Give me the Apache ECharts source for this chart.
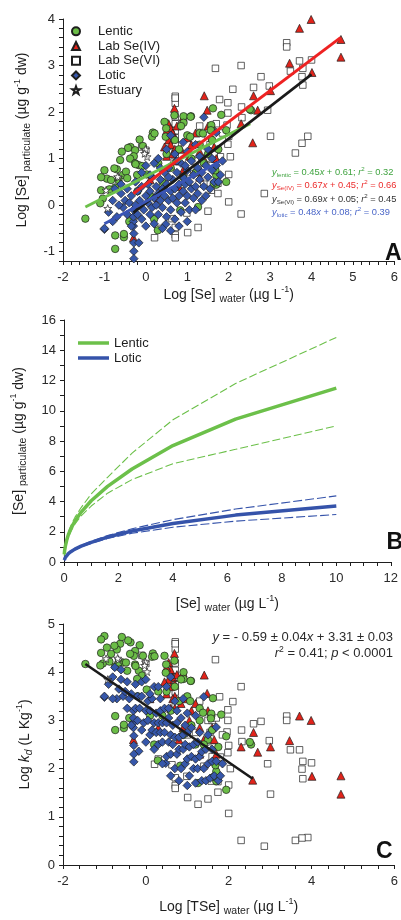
<!DOCTYPE html>
<html><head><meta charset="utf-8">
<script src="https://cdn.jsdelivr.net/npm/echarts@6.0.0/dist/echarts.min.js"></script>
<style>html,body{margin:0;padding:0;background:#fff}#c{width:401px;height:920px}</style>
</head><body><div id="c"></div>
<script>
// ---------- Panel A : Log [Se] particulate vs Log [Se] water ----------
const aLentic = [[2.54,2.04],[1.94,1.61],[1.62,2.08],[1.09,1.91],[0.91,1.91],[0.69,1.93],[0.91,1.77],[0.85,1.70],[0.45,1.79],[0.17,1.56],[0.15,1.47],[-0.15,1.41],[-0.37,1.25],[-0.26,1.18],[-0.07,1.27],[0.49,1.65],[0.48,1.47],[1.0,1.50],[1.07,1.47],[1.58,1.67],[0.21,1.54],[-0.43,1.23],[-0.29,1.05],[-0.38,1.0],[-0.17,0.86],[-0.26,0.90],[-0.62,0.97],[-0.70,0.77],[-1.0,0.75],[-0.94,0.57],[-0.84,0.54],[-1.08,0.60],[-0.74,0.38],[-1.04,0.14],[-1.10,0.04],[-1.08,0.32],[-1.46,-0.29],[-0.55,0.65],[-0.48,0.72],[-0.45,0.58],[-0.09,0.84],[-0.76,0.79],[-0.66,0.54],[-0.88,0.34],[-0.74,-0.65],[-0.53,-0.69],[-0.53,-0.62],[-0.74,-0.94],[0.29,-0.54],[-0.21,0.65],[-0.25,0.88],[0.02,0.66],[-0.58,1.15],[1.94,0.50],[1.70,0.64],[1.70,0.44],[0.83,-0.11],[1.26,-0.04],[0.3,0.9],[0.5,1.1],[0.6,0.8],[0.8,1.2],[1.1,1.0],[1.3,1.3],[1.5,1.1],[0.4,0.5],[0.9,0.6],[1.2,0.7],[0.1,0.2],[-0.2,0.3],[1.6,1.4],[1.4,0.9],[0.7,1.4],[1.3,1.55],[1.75,1.2],[-0.4,-0.35],[0.2,-0.3],[1.08,1.9],[1.82,1.94],[2.51,2.06],[1.58,1.72],[1.57,1.61],[1.38,1.54],[1.68,0.75],[1.64,0.47]];
const aSeIV = [[3.99,3.99],[3.71,3.80],[4.71,3.56],[4.71,3.18],[4.01,2.85],[3.47,3.05],[2.60,2.35],[1.41,2.35],[1.48,2.04],[0.69,2.08],[3.01,2.46],[2.70,2.04],[2.58,1.34],[0.9,1.89],[0.55,1.75],[0.6,1.65],[0.65,1.55],[0.7,1.45],[0.5,1.6],[0.55,1.4],[0.6,1.3],[0.7,1.2],[0.65,1.1],[0.5,1.05],[0.7,0.95],[0.6,0.85],[0.75,1.7],[0.45,1.25],[1.0,1.45],[1.1,1.3],[1.2,1.55],[1.3,1.15],[1.5,1.7],[1.6,1.45],[1.65,1.25],[1.05,1.05],[0.85,1.2],[0.9,0.75],[1.3,0.6],[1.4,1.0],[0.3,0.15],[0.1,0.55],[1.7,1.0],[0.8,0.4],[2.3,1.75],[-0.3,-0.7]];
const aSeVI = [[3.40,3.49],[3.40,3.40],[3.71,3.10],[4.0,3.12],[3.49,2.88],[3.79,2.94],[3.77,2.76],[3.79,2.58],[1.68,2.94],[2.30,3.0],[2.78,2.76],[2.98,2.56],[2.10,2.49],[2.60,2.53],[1.78,2.27],[1.98,2.2],[2.31,2.11],[2.94,2.04],[2.32,1.88],[3.01,1.48],[3.91,1.48],[3.77,1.33],[3.61,1.12],[0.71,2.34],[0.71,2.19],[0.71,2.30],[1.98,1.98],[1.96,1.72],[2.0,1.48],[1.98,1.31],[1.80,1.04],[2.04,1.04],[2.0,0.07],[2.0,0.66],[1.74,0.47],[2.30,-0.19],[2.86,0.25],[1.50,-0.13],[1.26,-0.48],[1.01,-0.59],[0.71,-0.48],[0.71,-0.64],[0.71,-0.70],[0.21,-0.70],[0.99,-0.17],[0.63,-0.29],[1.58,0.32],[1.74,0.25],[0.71,1.15],[0.71,1.3],[0.71,1.45],[0.71,1.6],[0.71,1.75],[0.71,1.9],[0.71,1.0],[1.5,1.5],[1.6,1.6],[1.7,1.75],[1.55,1.3],[1.45,1.0],[1.2,0.95],[1.65,1.1],[1.85,1.55],[1.3,1.7],[1.6,0.85],[1.0,0.7],[0.3,-0.5],[-0.3,-0.3],[1.4,0.45],[-0.1,1.25],[0.0,1.18]];
const aLotic = [[-1.0,-0.52],[-1.0,-0.50],[-0.29,-0.61],[-0.29,-0.81],[-0.17,-0.81],[-0.29,-0.99],[-0.29,-1.15],[0.48,-0.41],[-0.3,-0.45],[-0.3,-0.35],[-0.3,-0.25],[-0.55,-0.05],[-0.5,0.1],[-0.45,-0.2],[-0.4,0.05],[-0.35,0.2],[-0.3,-0.1],[-0.25,0.0],[-0.2,-0.2],[-0.2,0.3],[-0.15,0.1],[-0.1,-0.3],[-0.1,0.4],[-0.6,0.25],[-0.45,0.35],[-0.35,-0.45],[-0.25,0.5],[-0.05,-0.1],[0,0.2],[0,-0.45],[0.05,0.45],[0.05,0.05],[0.1,-0.2],[0.1,0.3],[0.15,0.6],[0.15,-0.05],[0.2,0.15],[0.2,-0.4],[0.25,0.4],[0.25,0.0],[0.3,0.25],[0.3,-0.2],[0.35,0.55],[0.35,0.1],[0.4,-0.05],[0.4,0.35],[0.45,0.7],[0.45,0.2],[0.5,-0.25],[0.5,0.45],[0.55,0.1],[0.55,0.8],[0.6,0.3],[0.6,-0.1],[0.65,0.55],[0.65,0.15],[0.7,0.35],[0.7,-0.3],[0.75,0.7],[0.75,0.05],[0.8,0.45],[0.8,0.2],[0.85,-0.15],[0.85,0.9],[0.9,0.3],[0.9,0.6],[0.95,0.05],[0.95,0.45],[1.0,0.75],[1.0,0.2],[1.05,-0.1],[1.05,0.5],[1.1,0.35],[1.1,0.95],[1.15,0.15],[1.15,0.65],[1.2,0.4],[1.2,-0.1],[1.25,0.8],[1.25,0.25],[1.3,0.55],[1.3,1.05],[1.35,0.1],[1.35,0.7],[1.4,0.4],[1.4,1.89],[1.45,0.85],[1.45,0.2],[1.5,0.6],[1.5,1.2],[1.55,0.35],[1.6,0.75],[1.6,1.0],[1.65,0.5],[1.7,1.56],[1.7,0.85],[1.75,0.5],[1.8,0.65],[1.85,0.95],[0.6,1.5],[0.9,1.35],[0.5,1.2],[0.2,0.9],[-0.1,0.7],[0.0,0.85],[0.3,1.0],[1.2,1.3],[0.7,1.1],[0.4,-0.5],[0.8,-0.45],[1.0,-0.35],[0.6,-0.55],[-0.7,-0.25],[-0.8,-0.35],[-0.65,0.0],[-0.9,-0.15],[0.1,0.65],[1.0,1.15],[0.35,0.8],[0.55,0.6],[0.75,0.95],[0.95,0.85],[-0.75,0.35],[-0.6,0.45],[-0.8,0.1]];
const aEstuary = [[-0.92,-0.07],[-0.96,0.32],[-0.01,1.2],[0.03,1.04],[-0.66,0.6],[-0.68,0.61],[-0.03,1.11]];
// regression lines (end points)
const fitLenticA = [[-1.46,-0.04],[2.52,1.75]];
const fitSeIVA = [[-0.30,0.25],[4.70,3.60]];
const fitSeVIA = [[-0.30,-0.16],[4.00,2.81]];
const fitLoticA = [[-1.00,-0.40],[1.88,0.98]];

// ---------- Panel B : [Se] particulate vs [Se] water ----------
const bX = [0.01,0.025,0.05,0.1,0.16,0.25,0.4,0.63,1,1.6,2.5,4,6.3,10];
const bLentic   = [0.5,0.78,1.05,1.45,1.8,2.2,2.7,3.3,4.05,5.0,6.15,7.7,9.45,11.5];
const bLenticUp = [0.6,0.9,1.2,1.6,1.95,2.4,2.95,3.6,4.5,5.6,7.2,9.4,11.8,14.85];
const bLenticLo = [0.4,0.65,0.9,1.3,1.65,2.0,2.5,3.05,3.7,4.55,5.45,6.5,7.45,9.0];
const bLotic    = [0.12,0.2,0.3,0.43,0.55,0.68,0.85,1.05,1.3,1.65,2.05,2.55,3.1,3.7];
const bLoticUp  = [0.15,0.24,0.34,0.47,0.59,0.72,0.9,1.1,1.37,1.75,2.2,2.8,3.5,4.37];
const bLoticLo  = [0.1,0.17,0.26,0.38,0.5,0.63,0.8,1.0,1.23,1.55,1.9,2.3,2.7,3.14];

// ---------- Panel C : Log kd vs Log [TSe] water ----------
const cLentic = [[2.54,2.50],[1.94,2.67],[1.62,3.46],[1.09,3.82],[0.91,4.00],[0.69,4.24],[0.91,3.86],[0.85,3.85],[0.45,4.34],[0.17,4.39],[0.15,4.32],[-0.15,4.56],[-0.37,4.62],[-0.26,4.44],[-0.07,4.34],[0.49,4.16],[0.48,3.99],[1.0,3.50],[1.07,3.40],[1.58,3.09],[0.21,4.33],[-0.43,4.66],[-0.29,4.34],[-0.38,4.38],[-0.17,4.03],[-0.26,4.16],[-0.62,4.59],[-0.70,4.47],[-1.0,4.75],[-0.94,4.51],[-0.84,4.38],[-1.08,4.68],[-0.74,4.12],[-1.04,4.18],[-1.10,4.14],[-1.08,4.40],[-1.46,4.17],[-0.55,4.20],[-0.48,4.20],[-0.45,4.03],[-0.09,3.93],[-0.76,4.55],[-0.66,4.20],[-0.88,4.22],[-0.74,3.09],[-0.53,2.84],[-0.53,2.91],[-0.74,2.80],[0.29,2.17],[-0.21,3.86],[-0.25,4.13],[0.02,3.64],[-0.58,4.73],[1.94,1.56],[1.70,1.94],[1.70,1.74],[0.83,2.06],[1.26,1.70],[0.3,3.60],[0.5,3.60],[0.6,3.20],[0.8,3.40],[1.1,2.90],[1.3,3.00],[1.5,2.60],[0.4,3.10],[0.9,2.70],[1.2,2.50],[0.1,3.10],[-0.2,3.50],[1.6,2.80],[1.4,2.50],[0.7,3.70],[1.3,3.25],[1.75,2.45],[-0.4,3.05],[0.2,2.50],[1.08,3.82],[1.82,3.12],[2.51,2.55],[1.58,3.14],[1.57,3.04],[1.38,3.16],[1.68,2.07],[1.64,1.83]];
const cSeIV = [[3.99,3.00],[3.71,3.09],[4.71,1.85],[4.71,1.47],[4.01,1.84],[3.47,2.58],[2.60,2.75],[1.41,3.94],[1.48,3.56],[0.69,4.39],[3.01,2.45],[2.70,2.34],[2.58,1.76],[0.9,3.99],[0.55,4.20],[0.6,4.05],[0.65,3.90],[0.7,3.75],[0.5,4.10],[0.55,3.85],[0.6,3.70],[0.7,3.50],[0.65,3.45],[0.5,3.55],[0.7,3.25],[0.6,3.25],[0.75,3.95],[0.45,3.80],[1.0,3.45],[1.1,3.20],[1.2,3.35],[1.3,2.85],[1.5,3.20],[1.6,2.85],[1.65,2.60],[1.05,3.00],[0.85,3.35],[0.9,2.85],[1.3,2.30],[1.4,2.60],[0.3,2.85],[0.1,3.45],[1.7,2.30],[0.8,2.60],[2.3,2.45],[-0.3,2.60]];
const cSeVI = [[3.40,3.09],[3.40,3.00],[3.71,2.39],[4.0,2.12],[3.49,2.39],[3.79,2.15],[3.77,1.99],[3.79,1.79],[1.68,4.26],[2.30,3.70],[2.78,2.98],[2.98,2.58],[2.10,3.39],[2.60,2.93],[1.78,3.49],[1.98,3.22],[2.31,2.80],[2.94,2.10],[2.32,2.56],[3.01,1.47],[3.91,0.57],[3.77,0.56],[3.61,0.51],[0.71,4.63],[0.71,4.48],[0.71,4.59],[1.98,3.00],[1.96,2.76],[2.0,2.48],[1.98,2.33],[1.80,2.24],[2.04,2.00],[2.0,1.07],[2.0,1.66],[1.74,1.73],[2.30,0.51],[2.86,0.39],[1.50,1.37],[1.26,1.26],[1.01,1.40],[0.71,1.81],[0.71,1.65],[0.71,1.59],[0.21,2.09],[0.99,1.84],[0.63,2.08],[1.58,1.74],[1.74,1.51],[0.71,3.44],[0.71,3.59],[0.71,3.74],[0.71,3.89],[0.71,4.04],[0.71,4.19],[0.71,3.29],[1.5,3.00],[1.6,3.00],[1.7,3.05],[1.55,2.75],[1.45,2.55],[1.2,2.75],[1.65,2.45],[1.85,2.70],[1.3,3.40],[1.6,2.25],[1.0,2.70],[0.3,2.20],[-0.3,3.00],[1.4,2.05],[-0.1,4.35],[0.0,4.18]];
const cLotic = [[-1.0,3.48],[-1.0,3.50],[-0.29,2.68],[-0.29,2.48],[-0.17,2.36],[-0.29,2.30],[-0.29,2.14],[0.48,2.11],[-0.3,2.85],[-0.3,2.95],[-0.3,3.05],[-0.55,3.50],[-0.5,3.60],[-0.45,3.25],[-0.4,3.45],[-0.35,3.55],[-0.3,3.20],[-0.25,3.25],[-0.2,3.00],[-0.2,3.50],[-0.15,3.25],[-0.1,2.80],[-0.1,3.50],[-0.6,3.85],[-0.45,3.80],[-0.35,2.90],[-0.25,3.75],[-0.05,2.95],[0,3.20],[0,2.55],[0.05,3.40],[0.05,3.00],[0.1,2.70],[0.1,3.20],[0.15,3.45],[0.15,2.80],[0.2,2.95],[0.2,2.40],[0.25,3.15],[0.25,2.75],[0.3,2.95],[0.3,2.50],[0.35,3.20],[0.35,2.75],[0.4,2.55],[0.4,2.95],[0.45,3.25],[0.45,2.75],[0.5,2.25],[0.5,2.95],[0.55,2.55],[0.55,3.25],[0.6,2.70],[0.6,2.30],[0.65,2.90],[0.65,2.50],[0.7,2.65],[0.7,2.00],[0.75,2.95],[0.75,2.30],[0.8,2.65],[0.8,2.40],[0.85,2.00],[0.85,3.05],[0.9,2.40],[0.9,2.70],[0.95,2.10],[0.95,2.50],[1.0,2.75],[1.0,2.20],[1.05,1.85],[1.05,2.45],[1.1,2.25],[1.1,2.85],[1.15,2.00],[1.15,2.50],[1.2,2.20],[1.2,1.70],[1.25,2.55],[1.25,2.00],[1.3,2.25],[1.3,2.75],[1.35,1.75],[1.35,2.35],[1.4,2.00],[1.4,3.49],[1.45,2.40],[1.45,1.75],[1.5,2.10],[1.5,2.70],[1.55,1.80],[1.6,2.15],[1.6,2.40],[1.65,1.85],[1.7,2.86],[1.7,2.15],[1.75,1.75],[1.8,1.85],[1.85,2.10],[0.6,3.90],[0.9,3.45],[0.5,3.70],[0.2,3.70],[-0.1,3.80],[0.0,3.85],[0.3,3.70],[1.2,3.10],[0.7,3.40],[0.4,2.10],[0.8,1.75],[1.0,1.65],[0.6,1.85],[-0.7,3.45],[-0.8,3.45],[-0.65,3.65],[-0.9,3.75],[0.1,3.55],[1.0,3.15],[0.35,3.45],[0.55,3.05],[0.75,3.20],[0.95,2.90],[-0.75,4.10],[-0.6,4.05],[-0.8,3.90]];
const cEstuary = [[-0.92,3.85],[-0.96,4.28],[-0.01,4.21],[0.03,4.01],[-0.66,4.26],[-0.68,4.29],[-0.03,4.14]];
const fitC = [[-1.46,4.17],[2.58,1.79]];

const legendA = ['Lentic','Lab Se(IV)','Lab Se(VI)','Lotic','Estuary'];
const legendB = ['Lentic','Lotic'];

// ---------- styling ----------
const FONT = 'Liberation Sans';
const INK = '#1e1e1e';
const GREEN = '#6bbd47', RED = '#e2231a', BLUE = '#3657aa';
const LGREEN = '#6cc04a', LBLUE = '#3553aa';
const STAR = 'path://M0,-10L2.35,-3.24L9.51,-3.09L3.8,1.24L5.88,8.09L0,4L-5.88,8.09L-3.8,1.24L-9.51,-3.09L-2.35,-3.24Z';

const nameRich = {
  sub: {fontSize: 10.5, lineHeight: 11, verticalAlign: 'bottom', fontFamily: FONT, color: INK},
  sup: {fontSize: 9, lineHeight: 9, verticalAlign: 'top', fontFamily: FONT, color: INK},
  it: {fontSize: 14, fontStyle: 'italic', fontFamily: FONT, color: INK},
  itsub: {fontSize: 10.5, lineHeight: 11, fontStyle: 'italic', verticalAlign: 'bottom', fontFamily: FONT, color: INK}
};
function nameStyle() { return {fontSize: 14, fontFamily: FONT, color: INK, lineHeight: 20, rich: nameRich}; }

function axis(grid, min, max, interval, every, name, gap, isY) {
  return {
    type: 'value', gridIndex: grid, min, max, interval,
    name, nameLocation: 'middle', nameGap: gap, nameTextStyle: nameStyle(),
    axisLine: {show: true, onZero: false, lineStyle: {color: INK, width: 1}},
    axisTick: {show: true, inside: false, length: 4, lineStyle: {color: INK, width: 1}},
    splitLine: {show: false},
    axisLabel: {
      show: true, margin: isY ? 8 : 10, fontSize: 13, fontFamily: FONT, color: '#2a2a2a',
      formatter: v => { const k = v / every; return Math.abs(k - Math.round(k)) < 1e-6 ? String(Math.round(v)) : ''; }
    }
  };
}

function sc(name, data, gi, symbol, size, color) {
  return {type: 'scatter', name, data, xAxisIndex: gi, yAxisIndex: gi, symbol, symbolSize: size, symbolKeepAspect: true,
    itemStyle: {color, borderColor: INK, borderWidth: 0.7, opacity: 1}, emphasis: {disabled: true}, z: 2, silent: true, animation: false};
}
function ln(name, data, gi, color, width, type) {
  return {type: 'line', name, data, xAxisIndex: gi, yAxisIndex: gi, symbol: 'none', showSymbol: false,
    lineStyle: {color, width, type: type || 'solid'}, itemStyle: {color}, emphasis: {disabled: true}, z: 5, silent: true, animation: false};
}
const zip = (xs, ys) => xs.map((x, i) => [x, ys[i]]);

const eqRich = (col, fs) => ({
  i: {fontStyle: 'italic', fontSize: fs, fontFamily: FONT, fill: col},
  sub: {fontSize: fs * 0.66, lineHeight: fs * 0.7, verticalAlign: 'bottom', fontFamily: FONT, fill: col},
  sup: {fontSize: fs * 0.66, lineHeight: fs * 0.6, verticalAlign: 'top', fontFamily: FONT, fill: col}
});
function eqText(x, y, text, col, fs, align) {
  return {type: 'text', x, y, silent: true, style: {text, fill: col, fontSize: fs, fontFamily: FONT, lineHeight: fs + 3,
    align: align || 'left', verticalAlign: 'middle', rich: eqRich(col, fs)}};
}

const chart = echarts.init(document.getElementById('c'), null, {renderer: 'canvas', width: 401, height: 920});
chart.setOption({
  animation: false,
  backgroundColor: '#fff',
  grid: [
    {left: 63, top: 19, width: 335, height: 242},
    {left: 64, top: 320, width: 335, height: 242},
    {left: 63, top: 624, width: 335, height: 241}
  ],
  xAxis: [
    axis(0, -2, 6, 0.2, 1, 'Log [Se] {sub|water} (µg L{sup|-1})', 22, false),
    axis(1, 0, 12, 0.5, 2, '[Se] {sub|water} (µg L{sup|-1})', 32, false),
    axis(2, -2, 6, 0.4, 2, 'Log [TSe] {sub|water} (µg L{sup|-1})', 32, false)
  ],
  yAxis: [
    axis(0, -1.2, 4, 0.2, 1, 'Log [Se] {sub|particulate} (µg g{sup|-1} dw)', 26, true),
    axis(1, 0, 16, 1, 2, '[Se] {sub|particulate} (µg g{sup|-1} dw)', 35, true),
    axis(2, 0, 5, 0.2, 1, 'Log {it|k}{itsub|d} (L Kg{sup|-1})', 28, true)
  ],
  legend: [
    {data: legendA, orient: 'vertical', left: 71, top: 24, itemWidth: 8, itemHeight: 8, itemGap: 0, padding: 0,
      selectedMode: false,
      textStyle: {fontSize: 13, fontFamily: FONT, color: INK, lineHeight: 14.7, padding: [0, 0, 0, 13]}},
    {data: legendB.map(n => ({name: 'B-' + n, icon: 'rect'})), formatter: n => n.slice(2), orient: 'vertical', left: 78, top: 335.5,
      itemWidth: 31, itemHeight: 3.5, itemGap: 0, padding: 0, selectedMode: false,
      textStyle: {fontSize: 13, fontFamily: FONT, color: INK, lineHeight: 15}}
  ],
  series: [
    // Panel A
    sc('Lab Se(VI)', aSeVI, 0, 'rect', 6.5, '#ffffff'),
    sc('Lab Se(IV)', aSeIV, 0, 'triangle', 8, RED),
    sc('Lentic', aLentic, 0, 'circle', 7.5, GREEN),
    sc('Lotic', aLotic, 0, 'diamond', 8.5, BLUE),
    sc('Estuary', aEstuary, 0, STAR, 8, '#ffffff'),
    ln('fitLentic', fitLenticA, 0, LGREEN, 3),
    ln('fitSeVI', fitSeVIA, 0, '#1a1a1a', 2.6),
    ln('fitSeIV', fitSeIVA, 0, '#ee2222', 3),
    ln('fitLotic', fitLoticA, 0, '#3a55b5', 3),
    // Panel B
    ln('B-LenticUp', zip(bX, bLenticUp), 1, LGREEN, 1.1, [8, 3]),
    ln('B-LenticLo', zip(bX, bLenticLo), 1, LGREEN, 1.1, [8, 3]),
    ln('B-Lentic', zip(bX, bLentic), 1, LGREEN, 3.5),
    ln('B-LoticUp', zip(bX, bLoticUp), 1, LBLUE, 1.1, [9, 3]),
    ln('B-LoticLo', zip(bX, bLoticLo), 1, LBLUE, 1.1, [9, 3]),
    ln('B-Lotic', zip(bX, bLotic), 1, LBLUE, 3.5),
    // Panel C
    sc('Lab Se(VI)', cSeVI, 2, 'rect', 6.5, '#ffffff'),
    sc('Lab Se(IV)', cSeIV, 2, 'triangle', 8, RED),
    sc('Lentic', cLentic, 2, 'circle', 7.5, GREEN),
    sc('Lotic', cLotic, 2, 'diamond', 8.5, BLUE),
    sc('Estuary', cEstuary, 2, STAR, 8, '#ffffff'),
    ln('fitC', fitC, 2, '#1a1a1a', 2.6)
  ],
  graphic: [
    eqText(272, 172, '{i|y}{sub|lentic} = 0.45{i|x} + 0.61; {i|r}{sup|2} = 0.32', '#3fa33f', 9.3),
    eqText(272, 185, '{i|y}{sub|Se(IV)} = 0.67{i|x} + 0.45; {i|r}{sup|2} = 0.66', '#ec2d2d', 9.3),
    eqText(272, 199, '{i|y}{sub|Se(VI)} = 0.69{i|x} + 0.05; {i|r}{sup|2} = 0.45', '#333333', 9.3),
    eqText(272, 212.5, '{i|y}{sub|lotic} = 0.48{i|x} + 0.08; {i|r}{sup|2} = 0.39', '#4a66c8', 9.3),
    eqText(393, 637, '{i|y} = - 0.59 ± 0.04{i|x} + 3.31 ± 0.03', '#2a2a2a', 13, 'right'),
    eqText(393, 653, '{i|r}{sup|2} = 0.41; {i|p} < 0.0001', '#2a2a2a', 13, 'right'),
    {type: 'text', x: 385, y: 253.5, silent: true, style: {text: 'A', fontSize: 23, fontWeight: 'bold', fontFamily: FONT, fill: '#111', verticalAlign: 'middle'}},
    {type: 'text', x: 386.5, y: 542.5, silent: true, style: {text: 'B', fontSize: 23, fontWeight: 'bold', fontFamily: FONT, fill: '#111', verticalAlign: 'middle'}},
    {type: 'text', x: 376, y: 851.5, silent: true, style: {text: 'C', fontSize: 23, fontWeight: 'bold', fontFamily: FONT, fill: '#111', verticalAlign: 'middle'}}
  ]
});
</script></body></html>
